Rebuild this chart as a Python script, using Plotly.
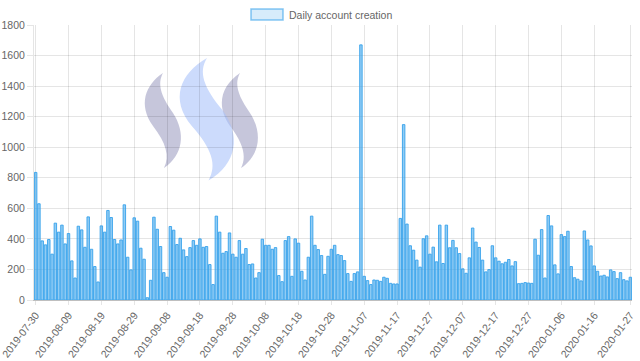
import plotly.graph_objects as go
import pandas as pd

start_date = "2019-07-30"
daily_accounts = [
    835, 630, 387, 361, 396, 300, 503, 444, 490, 367, 435, 256, 144, 483, 459, 345, 544, 332, 219, 118,
    485, 444, 586, 540, 396, 367, 393, 623, 280, 197, 538, 516, 339, 267, 15, 129, 542,
    463, 350, 179, 149, 481, 457, 363, 404, 328, 284, 343, 389, 358, 400, 345, 350, 232, 101, 549,
    444, 306, 317, 439, 300, 280, 389, 300, 337, 232, 236, 144, 179, 398, 358, 358, 332,
    343, 160, 120, 389, 415, 155, 400, 372, 188, 131, 280, 549, 358, 330, 291, 168, 286, 332, 358, 297,
    291, 258, 173, 122, 173, 184, 1670, 155, 127, 101, 131, 129, 122, 149, 142, 109, 105,
    105, 534, 1148, 497, 355, 326, 261, 215, 401, 420, 300, 346, 250, 490, 239, 490, 342, 390, 342, 304,
    204, 175, 276, 471, 379, 344, 261, 184, 199, 355, 276, 254, 237, 247, 265, 223,
    251, 107, 109, 114, 111, 109, 398, 293, 461, 144, 553, 485, 230, 171, 428, 415, 450, 219, 146, 136,
    125, 452, 393, 354, 223, 188, 157, 162, 151, 197, 186, 140, 179, 133, 125, 149,
]
dates = [d.strftime("%Y-%m-%d") for d in pd.date_range(start_date, periods=len(daily_accounts), freq="D")]
tick_labels = dates[0:171:10] + [dates[-1]]
y_ticks = list(range(0, 1801, 200))
series_name = "Daily account creation"

W, H = 640, 361
ML, MR, MT, MB = 34, 8, 25, 61
PW, PH = W - ML - MR, H - MT - MB

def px(x, y):
    return (x - ML) / PW, (H - MB - y) / PH

def path_from(pts):
    s = ""
    for cmd, coords in pts:
        s += cmd
        s += " ".join("%.5f,%.5f" % px(x, y) for x, y in coords) + " "
    return s + "Z"

base = [
    ("M", [(163, 73)]),
    ("C", [(145, 85), (138, 105), (153, 126)]),
    ("C", [(166, 143), (170, 156), (164, 168)]),
    ("C", [(183, 155), (186, 133), (173, 113)]),
    ("C", [(161, 96), (157, 84), (163, 73)]),
]

def transform(pts, f):
    return [(c, [f(x, y) for x, y in co]) for c, co in pts]

left = base
right = transform(base, lambda x, y: (x + 77, y))
middle = transform(base, lambda x, y: (177 + (x - 143) * 1.5, 58 + (y - 73) * 1.29))

font = "Liberation Sans, Arial, sans-serif"
FS = 10
fig = go.Figure()
fig.add_trace(go.Bar(
    x=dates, y=daily_accounts, name=series_name,
    marker=dict(color="rgba(54,162,235,0.55)", line=dict(color="rgba(54,162,235,0.9)", width=1)),
    showlegend=False,
))

shapes = []
for pts, col in [(left, "rgba(160,160,195,0.6)"), (right, "rgba(160,160,195,0.6)"), (middle, "rgba(170,195,250,0.6)")]:
    shapes.append(dict(type="path", xref="paper", yref="paper", path=path_from(pts),
                       fillcolor=col, line=dict(width=0), layer="below"))
x0, y0 = px(251, 9)
x1, y1 = px(283, 20)
shapes.append(dict(type="rect", xref="paper", yref="paper", x0=x0, y0=y1, x1=x1, y1=y0,
                   fillcolor="rgba(54,162,235,0.2)", line=dict(color="rgba(54,162,235,0.6)", width=1.5)))
tx, ty = px(287, 14.5)

fig.update_layout(
    width=W, height=H,
    margin=dict(l=ML, r=MR, t=MT, b=MB),
    paper_bgcolor="white", plot_bgcolor="white",
    bargap=0.25,
    font=dict(family=font, size=FS, color="#666"),
    shapes=shapes,
    annotations=[dict(xref="paper", yref="paper", x=tx, y=ty, text=series_name, showarrow=False,
                      xanchor="left", yanchor="middle", font=dict(family=font, size=FS + 0.5, color="#666"))],
    xaxis=dict(type="category", tickmode="array", tickvals=tick_labels, ticktext=tick_labels,
               tickangle=-53, showgrid=True, gridcolor="rgba(0,0,0,0.1)", gridwidth=1,
               ticks="outside", ticklen=4, tickcolor="rgba(0,0,0,0.1)", automargin=False,
               showline=True, linecolor="rgba(0,0,0,0.25)", linewidth=1,
               range=[-0.5, len(dates) - 0.5], tickfont=dict(size=FS + 0.5, color="#666")),
    yaxis=dict(range=[0, 1800], tickvals=y_ticks, showgrid=True, gridcolor="rgba(0,0,0,0.1)",
               ticks="outside", ticklen=6, tickcolor="rgba(0,0,0,0.1)", automargin=False,
               showline=True, linecolor="rgba(0,0,0,0.1)", zeroline=False,
               tickfont=dict(size=FS + 0.5, color="#666")),
)
fig.write_html("out.html", config={"displayModeBar": False},
               post_script="document.body.style.margin='0';document.body.style.overflow='hidden';")
